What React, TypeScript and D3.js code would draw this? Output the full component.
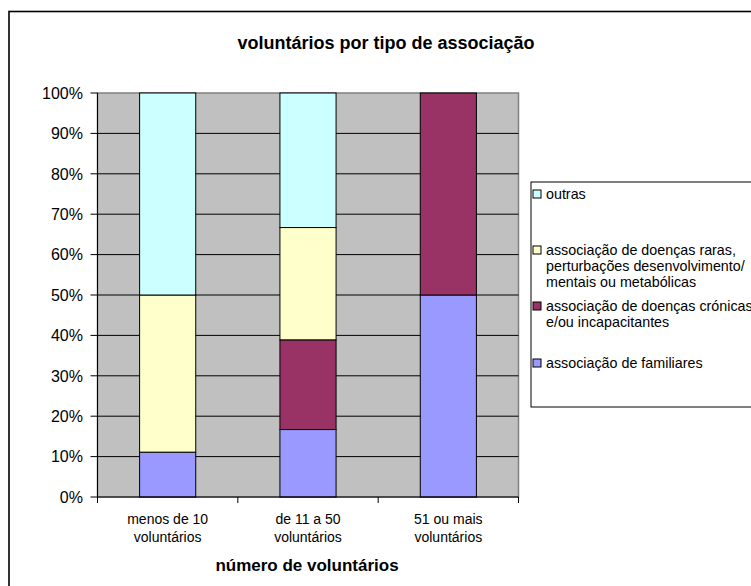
import React from "react";
import * as d3 from "d3";

const categories = ["menos de 10|voluntários", "de 11 a 50|voluntários", "51 ou mais|voluntários"];
const seriesNames = ["familiares", "cronicas", "raras", "outras"];
const familiares = [11.1, 16.7, 50];
const cronicas = [0, 22.2, 50];
const raras = [38.9, 27.8, 0];
const outras = [50, 33.3, 0];
const seriesColors = ["#9999FF", "#993366", "#FFFFCC", "#CCFFFF"];
const yTicks = [0, 10, 20, 30, 40, 50, 60, 70, 80, 90, 100];
const legendItems = [
  { key: "outras", lines: ["outras"], y: 194 },
  { key: "raras", lines: ["associação de doenças raras,", "perturbações desenvolvimento/", "mentais ou metabólicas"], y: 250 },
  { key: "cronicas", lines: ["associação de doenças crónicas", "e/ou incapacitantes"], y: 306 },
  { key: "familiares", lines: ["associação de familiares"], y: 363 },
];

export default function App() {
  const W = 751, H = 586;
  const L = 97.5, R = 518.5, T = 93, B = 497;
  const x = d3.scaleBand<string>().domain(categories).range([L, R]).paddingInner(0.6).paddingOuter(0.3);
  const y = d3.scaleLinear().domain([0, 100]).range([B, T]);
  const rows = categories.map((c, i) => ({
    cat: c,
    familiares: familiares[i],
    cronicas: cronicas[i],
    raras: raras[i],
    outras: outras[i],
  }));
  const stacked = d3.stack<any>().keys(seriesNames)(rows);
  const color = d3.scaleOrdinal<string, string>().domain(seriesNames).range(seriesColors);
  const step = x.step();
  const font = "Arial, 'Liberation Sans', sans-serif";

  return (
    <svg width={W} height={H} style={{ position: "absolute", left: 0, top: 0, background: "#fff" }} fontFamily={font}>
      <rect x={9} y={11.5} width={900} height={700} fill="#fff" stroke="#000" strokeWidth={1.6} />
      <text x={386} y={48.5} textAnchor="middle" fontSize={18} fontWeight="bold">voluntários por tipo de associação</text>

      <rect x={L} y={T} width={R - L} height={B - T} fill="#C0C0C0" stroke="#808080" strokeWidth={1.5} />
      {yTicks.filter(t => t > 0 && t < 100).map(t => (
        <line key={t} x1={L} x2={R} y1={y(t)} y2={y(t)} stroke="#000" strokeWidth={1} />
      ))}
      {stacked.map(s => s.map((d, i) => {
        const h = y(d[0]) - y(d[1]);
        if (h <= 0) return null;
        return (
          <rect key={s.key + i} x={x(categories[i])!} y={y(d[1])} width={x.bandwidth()} height={h}
            fill={color(s.key)} stroke="#000" strokeWidth={1} />
        );
      }))}
      <line x1={L} x2={L} y1={T} y2={B} stroke="#000" strokeWidth={1} />
      <line x1={L} x2={R} y1={B} y2={B} stroke="#000" strokeWidth={1} />
      {yTicks.map(t => (
        <g key={t}>
          <line x1={L - 7} x2={L} y1={y(t)} y2={y(t)} stroke="#000" strokeWidth={1} />
          <text x={83} y={y(t)} dy="0.36em" textAnchor="end" fontSize={16}>{t}%</text>
        </g>
      ))}
      {[0, 1, 2, 3].map(i => (
        <line key={i} x1={L + i * step} x2={L + i * step} y1={B} y2={B + 6} stroke="#000" strokeWidth={1} />
      ))}
      {categories.map(c => {
        const cx = x(c)! + x.bandwidth() / 2;
        return c.split("|").map((ln, j) => (
          <text key={c + j} x={cx} y={524 + j * 17.5} textAnchor="middle" fontSize={14}>{ln}</text>
        ));
      })}
      <text x={307} y={571} textAnchor="middle" fontSize={17} fontWeight="bold">número de voluntários</text>

      <rect x={531} y={182} width={300} height={225} fill="#fff" stroke="#000" strokeWidth={1} />
      {legendItems.map(it => (
        <g key={it.key}>
          <rect x={533} y={it.y - 4} width={8} height={8} fill={color(it.key)} stroke="#000" strokeWidth={1} />
          {it.lines.map((ln, j) => (
            <text key={j} x={546} y={it.y + j * 16} dy="0.36em" fontSize={14.3}>{ln}</text>
          ))}
        </g>
      ))}
    </svg>
  );
}
